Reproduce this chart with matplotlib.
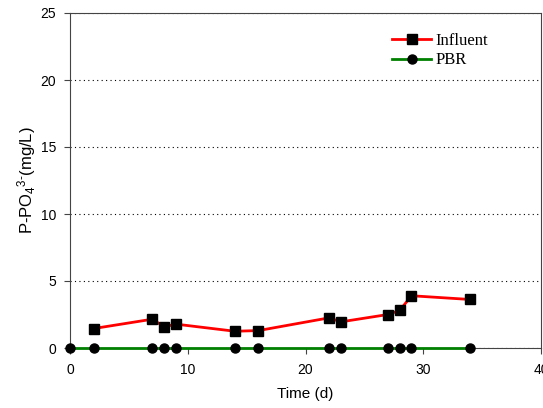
import matplotlib
matplotlib.use("Agg")
import matplotlib.pyplot as plt

# Datos
dias_influente = [2, 7, 8, 9, 14, 16, 22, 23, 27, 28, 29, 34]
influente = [1.45, 2.15, 1.58, 1.78, 1.25, 1.3, 2.25, 1.95, 2.5, 2.8, 3.9, 3.62]
dias_pbr = [0, 2, 7, 8, 9, 14, 16, 22, 23, 27, 28, 29, 34]
pbr = [0, 0, 0, 0, 0, 0, 0, 0, 0, 0, 0, 0, 0]

plt.rcParams['font.family'] = ['Liberation Sans', 'DejaVu Sans']
plt.rcParams['mathtext.default'] = 'regular'

fig = plt.figure(figsize=(5.43, 4.08), dpi=100)
ax = fig.add_axes([70 / 543, 60 / 408, 471 / 543, 335 / 408])

ax.plot(dias_influente, influente, color='red', lw=2, marker='s', ms=6.5,
        mfc='black', mec='black', label='Influent', zorder=3)
ax.plot(dias_pbr, pbr, color='green', lw=2, marker='o', ms=6.5,
        mfc='black', mec='black', label='PBR', zorder=4, clip_on=False)

ax.set_xlim(0, 40)
ax.set_ylim(0, 25)
ax.set_xticks(range(0, 41, 10))
ax.set_yticks(range(0, 26, 5))
ax.yaxis.grid(True, linestyle=(0, (1, 3)), color='black', lw=0.8)
ax.set_axisbelow(True)

for s in ax.spines.values():
    s.set_color('#444444')
    s.set_linewidth(0.8)
ax.tick_params(direction='out', length=4, width=0.8, labelsize=10, colors='#444444',
               labelcolor='black')
ax.tick_params(axis='x', pad=7)
ax.tick_params(axis='y', pad=6)

ax.set_xlabel('Time (d)', fontsize=11, labelpad=7)
ax.set_ylabel('P-PO$_4$$^{3\u2010}$(mg/L)', fontsize=12, labelpad=2)

ax.legend(loc='upper right', bbox_to_anchor=(0.92, 0.985), frameon=False,
          prop={'family': 'Liberation Serif', 'size': 12}, handlelength=2.3,
          handletextpad=0.3, labelspacing=0.2)

fig.savefig('out.png', dpi=100)
